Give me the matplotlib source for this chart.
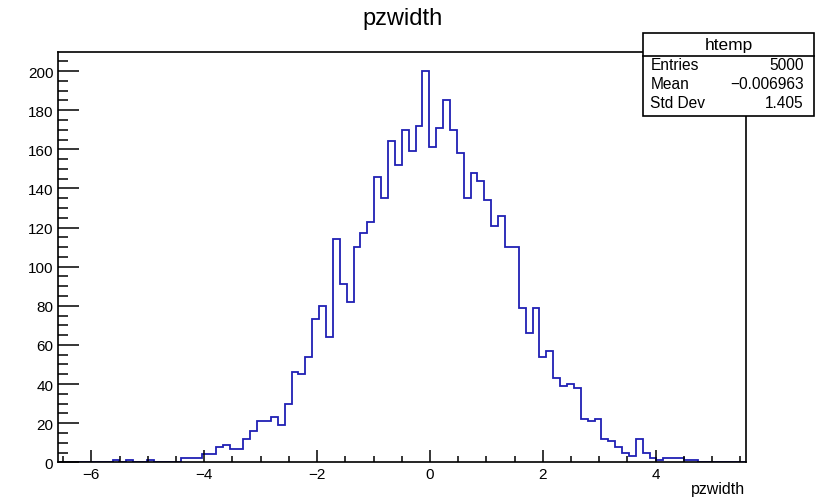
import numpy as np
import matplotlib
matplotlib.use('Agg')
import matplotlib.pyplot as plt
from matplotlib.patches import Rectangle

plt.rcParams['font.family'] = ['Liberation Sans', 'DejaVu Sans']

# ─── Data (htemp, 100 bins from -6.6 to 5.6) ───
x_min, x_max, n_bins = -6.6, 5.6, 100
counts = [0, 0, 0, 0, 0, 0, 0, 0, 1, 0,
          1, 0, 0, 1, 0, 0, 0, 0, 2, 2,
          2, 4, 4, 8, 9, 7, 7, 12, 16, 21,
          21, 23, 19, 30, 46, 45, 54, 73, 80, 64,
          114, 91, 82, 110, 117, 123, 146, 135, 164, 152,
          170, 159, 172, 200, 161, 171, 185, 170, 158, 135,
          148, 144, 134, 121, 126, 110, 110, 79, 66, 79,
          54, 57, 43, 39, 40, 38, 22, 21, 22, 12,
          11, 8, 5, 3, 12, 5, 2, 1, 2, 2,
          2, 1, 1, 0, 0, 0, 0, 0, 0, 0]
stat_labels = ['Entries', 'Mean', 'Std Dev']
stat_values = ['5000', '\u22120.006963', '1.405']
x_ticks = [-6, -4, -2, 0, 2, 4]
y_ticks = [0, 20, 40, 60, 80, 100, 120, 140, 160, 180, 200]

edges = np.linspace(x_min, x_max, n_bins + 1)

W, H = 818, 502
fig = plt.figure(figsize=(W / 100, H / 100), dpi=100)

def fx(px):
    return px / W

def fy(py):
    return 1 - py / H

ax = fig.add_axes([fx(57.5), fy(463.3), fx(746) - fx(57.5), fy(52.5) - fy(463.3)])
ax.stairs(counts, edges, color='#2020b4', linewidth=1.3)

ax.set_xlim(x_min, x_max)
ax.set_ylim(0, 210)
ax.set_xticks(x_ticks)
ax.set_xticklabels([str(t).replace('-', '\u2212') for t in x_ticks])
ax.set_xticks(np.arange(-6.5, 5.6, 0.5), minor=True)
ax.set_yticks(y_ticks)
ax.set_yticks(np.arange(0, 210, 5), minor=True)

for s in ax.spines.values():
    s.set_linewidth(1.2)
ax.tick_params(axis='x', which='major', direction='in', length=8.8, width=1.1,
               labelsize=11, pad=3.5)
ax.tick_params(axis='x', which='minor', direction='in', length=4.6, width=1.1)
ax.tick_params(axis='y', which='major', direction='in', length=15, width=1.1,
               labelsize=11, pad=3)
ax.tick_params(axis='y', which='minor', direction='in', length=7.5, width=1.1)

# titles
fig.text(fx(403), fy(25), 'pzwidth', ha='center', va='baseline', fontsize=17)
fig.text(fx(745), fy(494), 'pzwidth', ha='right', va='baseline', fontsize=11.5)

# ─── Stats box ───
bx0, by0, bx1, by1 = 643, 34, 814, 117
fig.patches.append(Rectangle((fx(bx0), fy(by1)), fx(bx1) - fx(bx0), fy(by0) - fy(by1),
                             transform=fig.transFigure, facecolor='white',
                             edgecolor='black', linewidth=1.2, zorder=5))
fig.add_artist(plt.Line2D([fx(bx0), fx(bx1)], [fy(57.3), fy(57.3)],
                          transform=fig.transFigure, color='black', linewidth=1.2, zorder=6))
fig.text(fx((bx0 + bx1) / 2), fy(45.5), 'htemp', ha='center', va='center',
         fontsize=12.5, zorder=7)
for i, (lab, val) in enumerate(zip(stat_labels, stat_values)):
    yy = fy(65.5 + i * 19.2)
    fig.text(fx(650.5), yy, lab, ha='left', va='center', fontsize=11.2, zorder=7)
    fig.text(fx(803.5), yy, val, ha='right', va='center', fontsize=11.2, zorder=7)

plt.savefig('out.png', dpi=100)
